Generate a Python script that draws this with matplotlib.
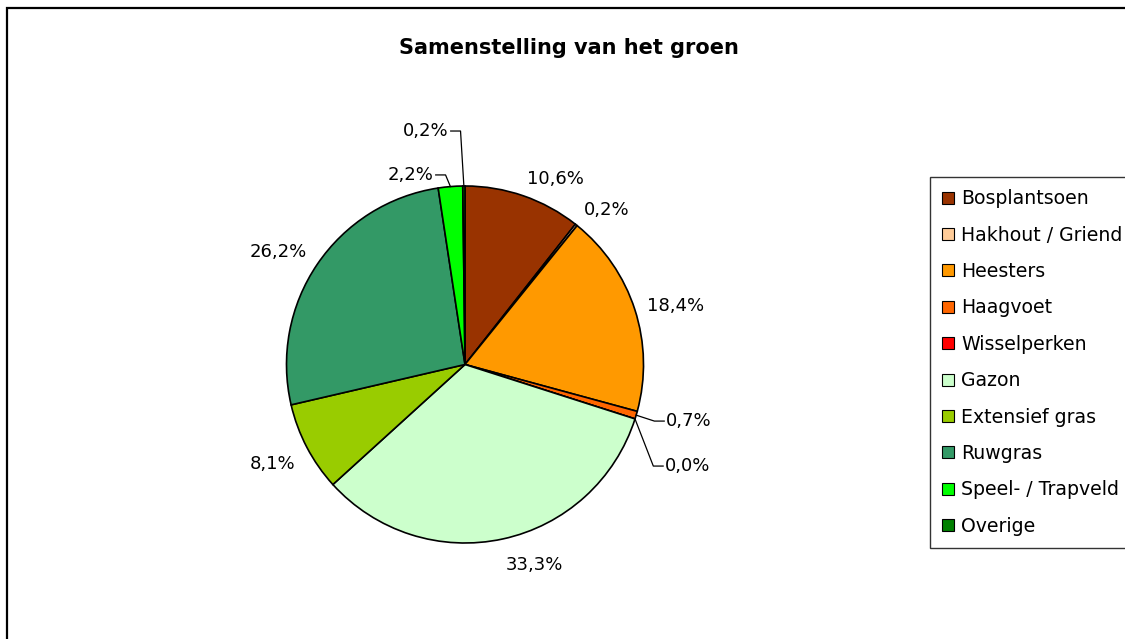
import numpy as np
import matplotlib
matplotlib.use("Agg")
import matplotlib.pyplot as plt
from matplotlib.patches import Rectangle

# data
categories = ["Bosplantsoen", "Hakhout / Griend", "Heesters", "Haagvoet", "Wisselperken",
              "Gazon", "Extensief gras", "Ruwgras", "Speel- / Trapveld", "Overige"]
shares = [10.6, 0.2, 18.4, 0.7, 0.0, 33.3, 8.1, 26.2, 2.2, 0.2]
colors = ["#993300", "#FFCC99", "#FF9900", "#FF6600", "#FF0000",
          "#CCFFCC", "#99CC00", "#339966", "#00FF00", "#008000"]

W, H = 1125, 639
fig = plt.figure(figsize=(W / 100, H / 100), dpi=100)

# pie axes: centre at (465, 364.5) px, radius 178.5 px -> radius 1 in data units
R = 178.5
cx, cy = 465, 364.5
half = 260
ax = fig.add_axes([(cx - half) / W, (H - cy - half) / H, 2 * half / W, 2 * half / H])

wedges, _ = ax.pie(shares, colors=colors, startangle=90, counterclock=False, radius=1,
                   wedgeprops=dict(edgecolor="black", linewidth=1.2))
ax.set_xlim(-half / R, half / R)
ax.set_ylim(-half / R, half / R)
ax.axis("off")

fs = 13
labels = [f"{v:.1f}%".replace(".", ",") for v in shares]

# labels that Excel pulled away with a leader line: text anchor in data units
moved = {3: (1.126, -0.317, "left"), 4: (1.120, -0.569, "left"),
         8: (-0.174, 1.062, "right"), 9: (-0.090, 1.308, "right")}

for i, w in enumerate(wedges):
    ang = np.deg2rad((w.theta1 + w.theta2) / 2)
    ex, ey = np.cos(ang), np.sin(ang)
    if i in moved:
        tx, ty, ha = moved[i]
        elb = tx - 0.065 if ha == "left" else tx + 0.065
        ax.plot([ex, elb, tx - 0.01 if ha == "left" else tx + 0.01], [ey, ty, ty],
                color="black", lw=0.9, clip_on=False)
        ax.text(tx, ty, labels[i], ha=ha, va="center", fontsize=fs, clip_on=False)
    else:
        ha = "left" if ex >= 0 else "right"
        if abs(ey) < 0.4:
            va, gy = "center", 0.07
        elif ey > 0:
            va, gy = "baseline", 0.07
        else:
            va, gy = "top", 0.095
        ax.text(1.07 * ex, (1 + gy) * ey, labels[i], ha=ha, va=va,
                fontsize=fs, clip_on=False)

fig.text(569 / W, 1 - 48 / H, "Samenstelling van het groen", ha="center", va="center",
         fontsize=15, fontweight="bold")

leg = fig.legend(wedges, categories, loc="upper left",
                 bbox_to_anchor=(930 / W, 1 - 177 / H), bbox_transform=fig.transFigure,
                 borderaxespad=0, fontsize=13.6, frameon=True, fancybox=False,
                 handlelength=0.6, handleheight=0.6, handletextpad=0.4,
                 labelspacing=0.92, borderpad=0.65)
leg.get_frame().set_edgecolor("black")
leg.get_frame().set_linewidth(1.0)
for h in leg.legend_handles:
    h.set_linewidth(0.8)

# outer chart border (only the left and top sides fall inside the picture)
fig.patches.append(Rectangle((6.5 / W, -0.5), 3, 1.5 - 8 / H, transform=fig.transFigure,
                             fill=False, edgecolor="black", linewidth=1.6))

fig.savefig("out.png", dpi=100)
